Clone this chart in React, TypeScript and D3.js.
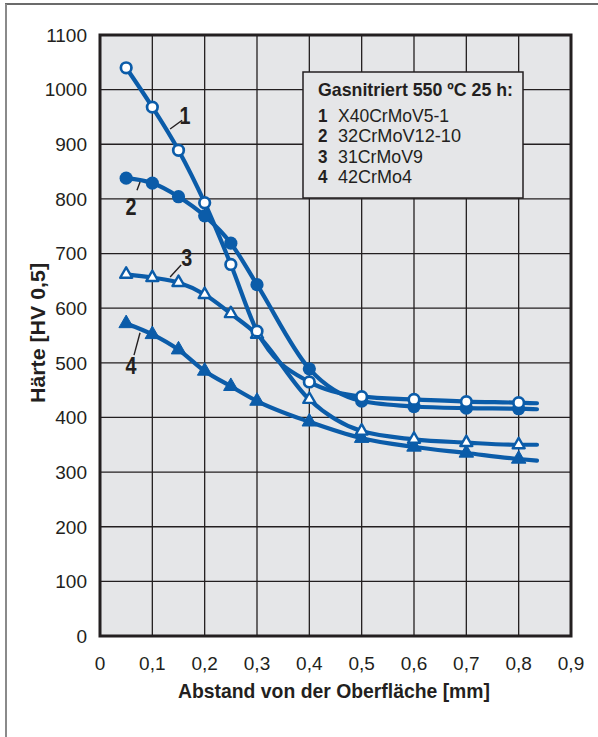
import React from "react";
import * as d3 from "d3";

// Hardness profiles after gas nitriding (550 °C, 25 h)
const distances = [0.05, 0.1, 0.15, 0.2, 0.25, 0.3, 0.4, 0.5, 0.6, 0.7, 0.8];
const hardnessX40 = [1040, 968, 889, 793, 680, 558, 465, 438, 433, 429, 427];
const hardness32 = [838, 829, 804, 769, 719, 643, 489, 430, 420, 417, 416];
const hardness31 = [662, 656, 647, 625, 590, 552, 433, 375, 360, 354, 350];
const hardness42 = [572, 552, 524, 485, 457, 430, 392, 362, 346, 335, 324];
// where each fitted curve runs out past the last measurement
const curveEndX = 0.835;
const curveEndValues = [426, 415, 350, 321];

const steelNames = ["X40CrMoV5-1", "32CrMoV12-10", "31CrMoV9", "42CrMo4"];
const steelNameWidths = [111, 123, 85, 74];
const markerKinds = ["openCircle", "dotCircle", "openTriangle", "dotTriangle"];

const xTicks = [0, 0.1, 0.2, 0.3, 0.4, 0.5, 0.6, 0.7, 0.8, 0.9];
const yTicks = [0, 100, 200, 300, 400, 500, 600, 700, 800, 900, 1000, 1100];

// curve number tags: text position and leader line, in data units
const tagLabels = ["1", "2", "3", "4"];
const tagText = [[0.1625, 952], [0.059, 785], [0.166, 692], [0.059, 494]];
const tagLeader = [
  [[0.157, 944], [0.134, 928]],
  [[0.0707, 816], [0.0765, 831]],
  [[0.155, 679], [0.134, 657]],
  [[0.065, 514], [0.0765, 555]],
];

const BLUE = "#0b5ca9";
const INK = "#231f20";
const PANEL = "#e5e6e8";
const SANS = "'Liberation Sans', Arial, sans-serif";

export default function App() {
  const width = 598;
  const height = 737;
  const x = d3.scaleLinear().domain([0, 0.9]).range([100, 571]);
  const y = d3.scaleLinear().domain([0, 1100]).range([636, 35]);

  const series = [hardnessX40, hardness32, hardness31, hardness42];
  const line = d3
    .line<[number, number]>()
    .x((d) => x(d[0]))
    .y((d) => y(d[1]))
    .curve(d3.curveMonotoneX);

  const fmt = (v: number) => (v === 0 ? "0" : String(v).replace(".", ","));

  const triangle = (cx: number, cy: number, s: number) => {
    const h = (s * Math.sqrt(3)) / 2;
    return `M${cx},${cy - (2 * h) / 3}L${cx + s / 2},${cy + h / 3}L${cx - s / 2},${cy + h / 3}Z`;
  };

  const marker = (kind: string, cx: number, cy: number, key: string) => {
    switch (kind) {
      case "openCircle":
        return <circle key={key} cx={cx} cy={cy} r={5.3} fill="#fff" stroke={BLUE} strokeWidth={2.7} />;
      case "dotCircle":
        return <circle key={key} cx={cx} cy={cy} r={6.6} fill={BLUE} />;
      case "openTriangle":
        return <path key={key} d={triangle(cx, cy, 12)} fill="#fff" stroke={BLUE} strokeWidth={2.4} strokeLinejoin="round" />;
      default:
        return <path key={key} d={triangle(cx, cy, 14.5)} fill={BLUE} stroke={BLUE} strokeWidth={1} strokeLinejoin="round" />;
    }
  };

  const [x0, x1] = x.range();
  const [yb, yt] = y.range();

  return (
    <svg width={width} height={height} style={{ display: "block", position: "absolute", left: 0, top: 0 }}>
      <rect x={0} y={0} width={width} height={height} fill="#fff" />
      {/* page frame */}
      <line x1={5} x2={width} y1={4} y2={4} stroke="#3a3a3a" strokeWidth={1.6} />
      <line x1={6} x2={6} y1={4} y2={height} stroke="#8a8a8a" strokeWidth={2} />

      {/* panel and grid */}
      <rect x={x0} y={yt} width={x1 - x0} height={yb - yt} fill={PANEL} />
      {xTicks.map((t) => (
        <line key={`gx${t}`} x1={x(t)} x2={x(t)} y1={yt} y2={yb} stroke={INK} strokeWidth={1.3} />
      ))}
      {yTicks.map((t) => (
        <line key={`gy${t}`} x1={x0} x2={x1} y1={y(t)} y2={y(t)} stroke={INK} strokeWidth={1.3} />
      ))}

      {/* curves */}
      {series
        .map((vals, i) => ({ vals, i }))
        .reverse()
        .map(({ vals, i }) => {
          const pts: [number, number][] = distances.map((d, k) => [d, vals[k]]);
          pts.push([curveEndX, curveEndValues[i]]);
          return <path key={`c${i}`} d={line(pts) || ""} fill="none" stroke={BLUE} strokeWidth={4.2} strokeLinecap="round" />;
        })}
      {series
        .map((vals, i) => ({ vals, i }))
        .reverse()
        .map(({ vals, i }) => (
          <g key={`m${i}`}>
            {distances.map((d, k) => marker(markerKinds[i], x(d), y(vals[k]), `${i}-${k}`))}
          </g>
        ))}

      {/* curve tags */}
      {tagLabels.map((lab, i) => (
        <g key={`t${i}`}>
          <line
            x1={x(tagLeader[i][0][0])}
            y1={y(tagLeader[i][0][1])}
            x2={x(tagLeader[i][1][0])}
            y2={y(tagLeader[i][1][1])}
            stroke={INK}
            strokeWidth={1.4}
          />
          <text
            x={x(tagText[i][0])}
            y={y(tagText[i][1])}
            dy="0.36em"
            textAnchor="middle"
            fontFamily={SANS}
            fontWeight="bold"
            fontSize={23}
            textLength={11}
            lengthAdjust="spacingAndGlyphs"
            fill={INK}
          >
            {lab}
          </text>
        </g>
      ))}

      {/* legend */}
      <g>
        <rect x={303} y={72} width={220} height={126} fill={PANEL} stroke={INK} strokeWidth={1.5} />
        <text
          x={318}
          y={96}
          fontFamily={SANS}
          fontWeight="bold"
          fontSize={18.5}
          textLength={195}
          lengthAdjust="spacingAndGlyphs"
          fill={INK}
        >
          Gasnitriert 550 ºC 25 h:
        </text>
        {steelNames.map((n, i) => (
          <g key={`l${i}`} fontFamily={SANS} fontSize={18.5} fill={INK}>
            <text x={318} y={122 + i * 20.3} fontWeight="bold" textLength={9.5} lengthAdjust="spacingAndGlyphs">
              {i + 1}
            </text>
            <text x={338} y={122 + i * 20.3} textLength={steelNameWidths[i]} lengthAdjust="spacingAndGlyphs">
              {n}
            </text>
          </g>
        ))}
      </g>

      {/* plot frame */}
      <rect x={x0} y={yt} width={x1 - x0} height={yb - yt} fill="none" stroke={INK} strokeWidth={3} />

      {/* axes labels */}
      {yTicks.map((t) => (
        <text key={`ty${t}`} x={87} y={y(t)} dy="0.36em" textAnchor="end" fontFamily={SANS} fontSize={19} fill={INK}>
          {t}
        </text>
      ))}
      {xTicks.map((t) => (
        <text key={`tx${t}`} x={x(t)} y={670} textAnchor="middle" fontFamily={SANS} fontSize={19} fill={INK}>
          {fmt(t)}
        </text>
      ))}
      <text
        x={334}
        y={698}
        textAnchor="middle"
        fontFamily={SANS}
        fontWeight="bold"
        fontSize={21}
        textLength={312}
        lengthAdjust="spacingAndGlyphs"
        fill={INK}
      >
        Abstand von der Oberfläche [mm]
      </text>
      <text
        transform={`translate(45,333) rotate(-90)`}
        textAnchor="middle"
        fontFamily={SANS}
        fontWeight="bold"
        fontSize={21}
        textLength={140}
        lengthAdjust="spacingAndGlyphs"
        fill={INK}
      >
        Härte [HV 0,5]
      </text>
    </svg>
  );
}
